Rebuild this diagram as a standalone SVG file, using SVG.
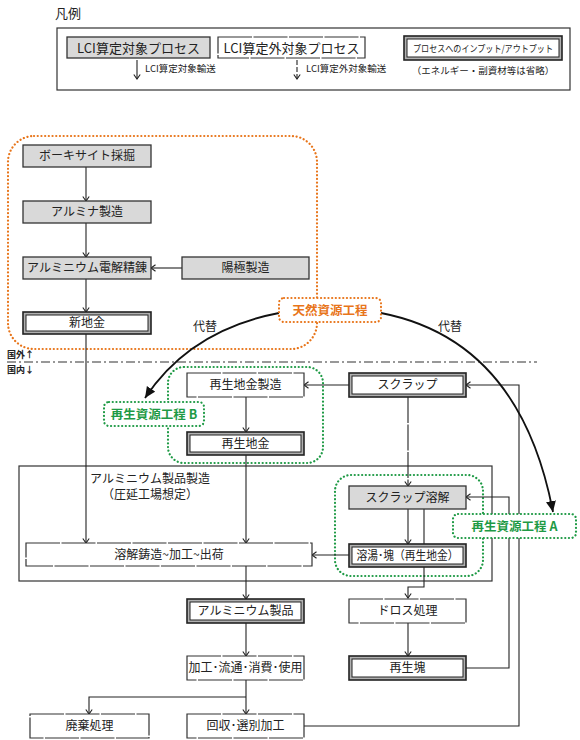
<svg xmlns="http://www.w3.org/2000/svg" width="580" height="740" viewBox="0 0 580 740">
<style>
text{font-family:"Noto Sans CJK JP","Liberation Sans",sans-serif;fill:#222;}
.t{font-size:12px;text-anchor:middle;}
.s{font-size:9.5px;}
.g{fill:#d9d9d9;stroke:#333;stroke-width:1.3;}
.w{fill:#fff;stroke:#333;stroke-width:1.2;}
.wd{fill:#fff;stroke:#333;stroke-width:1.2;stroke-dasharray:34 1.5;}
.do{fill:#b0b0b0;stroke:#222;stroke-width:1.6;}
.di{fill:#fff;stroke:#222;stroke-width:1;}
.c{fill:none;stroke:#222;stroke-width:1.1;}
.cd{fill:none;stroke:#222;stroke-width:1.1;stroke-dasharray:26 1.5;}
.cv{fill:none;stroke:#111;stroke-width:1.8;}
.or{fill:none;stroke:#E8751A;stroke-width:2.2;stroke-dasharray:0.1 3.6;stroke-linecap:round;}
.orl{fill:#fff;stroke:#E8751A;stroke-width:2.2;stroke-dasharray:0.1 3.6;stroke-linecap:round;}
.gr{fill:none;stroke:#1E9A45;stroke-width:2.2;stroke-dasharray:0.1 3.6;stroke-linecap:round;}
.grl{fill:#fff;stroke:#1E9A45;stroke-width:2.2;stroke-dasharray:0.1 3.6;stroke-linecap:round;}
.lo{font-size:12.5px;font-weight:bold;fill:#E8751A;text-anchor:middle;}
.lg{font-size:12.5px;font-weight:bold;fill:#1E9A45;text-anchor:middle;}
</style>
<defs>
<marker id="a" markerUnits="userSpaceOnUse" markerWidth="10" markerHeight="10" refX="5" refY="4" orient="auto">
<path d="M0.5,0.8 L5,4 L0.5,7.2" fill="none" stroke="#222" stroke-width="1.1"/>
</marker>
<marker id="f" markerUnits="userSpaceOnUse" markerWidth="14" markerHeight="14" refX="11" refY="5" orient="auto">
<path d="M0,0 L11,5 L0,10 Z" fill="#111"/>
</marker>
</defs>

<g id="legend">
<text x="55" y="18" style="font-size:13px">凡例</text>
<rect x="57" y="28" width="513" height="62" fill="none" stroke="#333" stroke-width="1.2"/>
<rect x="67" y="37" width="143" height="21" class="g"/>
<text x="138.5" y="52.5" class="t" style="font-size:13px">LCI算定対象プロセス</text>
<rect x="218" y="37" width="147" height="21" class="wd"/>
<text x="291.5" y="52.5" class="t" style="font-size:13px">LCI算定外対象プロセス</text>
<rect x="404" y="36" width="158" height="24" class="do"/>
<rect x="407" y="39" width="152" height="18" class="di"/>
<text x="483" y="51.5" class="t" style="font-size:9.5px" textLength="140" lengthAdjust="spacingAndGlyphs">プロセスへのインプット/アウトプット</text>
<path d="M137,60 V79" class="c" marker-end="url(#a)"/>
<text x="145" y="72" class="s">LCI算定対象輸送</text>
<path d="M297,60 V79" class="c" stroke-dasharray="5 2" marker-end="url(#a)"/>
<text x="306" y="72" class="s">LCI算定外対象輸送</text>
<text x="483" y="74" class="s" text-anchor="middle">（エネルギー・副資材等は省略）</text>
</g>

<g id="regions">
<rect x="8" y="136" width="309" height="213" rx="26" class="or"/>
<rect x="168" y="367" width="155" height="96" rx="16" class="gr"/>
<rect x="335" y="475" width="148" height="101" rx="16" class="gr"/>
<rect x="19" y="466" width="473" height="115" fill="none" stroke="#333" stroke-width="1.2"/>
<text x="150" y="483" class="t">アルミニウム製品製造</text>
<text x="150" y="499" class="t">（圧延工場想定）</text>
<path d="M7,362 H537" fill="none" stroke="#333" stroke-width="1.1" stroke-dasharray="9 3 2 3"/>
<text x="7" y="358" style="font-size:9px;font-weight:bold">国外↑</text>
<text x="7" y="373" style="font-size:9px;font-weight:bold">国内↓</text>
<text x="205" y="331" class="t">代替</text>
<text x="450" y="331" class="t">代替</text>
</g>

<g id="connectors">
<path d="M86,167 V201" class="c" marker-end="url(#a)"/>
<path d="M86,223 V257" class="c" marker-end="url(#a)"/>
<path d="M86,279 V312" class="c" marker-end="url(#a)"/>
<path d="M182,268 H151" class="c" marker-end="url(#a)"/>
<path d="M86,334 V543" class="c" marker-end="url(#a)"/>
<path d="M349,385 H304" class="c" marker-end="url(#a)"/>
<path d="M246,397 V432" class="c" marker-end="url(#a)"/>
<path d="M246,455 V543" class="c" marker-end="url(#a)"/>
<path d="M408,397 V486" class="cd" marker-end="url(#a)"/>
<path d="M408,509 V544" class="c" marker-end="url(#a)"/>
<path d="M424,509 V587 H408 V598" class="c" marker-end="url(#a)"/>
<path d="M349,555 H312" class="c" marker-end="url(#a)"/>
<path d="M246,566 V599" class="c" marker-end="url(#a)"/>
<path d="M408,623 V656" class="c" marker-end="url(#a)"/>
<path d="M246,623 V656" class="c" marker-end="url(#a)"/>
<path d="M246,680 V714" class="c" marker-end="url(#a)"/>
<path d="M246,697 H89 V714" class="c" marker-end="url(#a)"/>
<path d="M466,668 H509 V497 H466" class="c" marker-end="url(#a)"/>
<path d="M304,726 H519 V385 H466" class="c" marker-end="url(#a)"/>
<path d="M279,313 Q190,330 145,398" class="cv" marker-end="url(#f)"/>
<path d="M381,313 Q520,340 553,512" class="cv" marker-end="url(#f)"/>
</g>

<g id="n-bauxite"><rect x="23" y="145" width="128" height="22" class="g"/><text x="87" y="160" class="t">ボーキサイト採掘</text></g>
<g id="n-alumina"><rect x="23" y="201" width="128" height="22" class="g"/><text x="87" y="216" class="t">アルミナ製造</text></g>
<g id="n-smelt"><rect x="23" y="257" width="128" height="22" class="g"/><text x="87" y="272" class="t">アルミニウム電解精錬</text></g>
<g id="n-anode"><rect x="182" y="257" width="127" height="22" class="g"/><text x="245.5" y="272" class="t">陽極製造</text></g>
<g id="n-primary"><rect x="23" y="312" width="128" height="22" class="do"/><rect x="26" y="315" width="122" height="16" class="di"/><text x="87" y="327" class="t">新地金</text></g>
<g id="l-natural"><rect x="279" y="298" width="102" height="24" rx="5" class="orl"/><text x="330" y="315" class="lo">天然資源工程</text></g>
<g id="n-secmake"><rect x="187" y="373" width="117" height="24" class="wd"/><text x="245.5" y="389" class="t">再生地金製造</text></g>
<g id="n-scrap"><rect x="349" y="373" width="117" height="24" class="do"/><rect x="352" y="376" width="111" height="18" class="di"/><text x="407.5" y="389" class="t">スクラップ</text></g>
<g id="l-b"><rect x="104" y="402" width="100" height="24" rx="5" class="grl"/><text x="154" y="419" class="lg">再生資源工程 B</text></g>
<g id="n-secingot"><rect x="187" y="432" width="117" height="23" class="do"/><rect x="190" y="435" width="111" height="17" class="di"/><text x="245.5" y="448" class="t">再生地金</text></g>
<g id="n-melt"><rect x="349" y="486" width="117" height="23" class="g"/><text x="407.5" y="502" class="t">スクラップ溶解</text></g>
<g id="l-a"><rect x="453" y="514" width="123" height="24" rx="5" class="grl"/><text x="514.5" y="531" class="lg">再生資源工程 A</text></g>
<g id="n-molten"><rect x="349" y="544" width="117" height="23" class="do"/><rect x="352" y="547" width="111" height="17" class="di"/><text x="407.5" y="560" class="t" textLength="102" lengthAdjust="spacingAndGlyphs">溶湯･塊（再生地金）</text></g>
<g id="n-cast"><rect x="26" y="543" width="286" height="23" class="wd"/><text x="169" y="559" class="t">溶解鋳造~加工~出荷</text></g>
<g id="n-product"><rect x="187" y="599" width="117" height="24" class="do"/><rect x="190" y="602" width="111" height="18" class="di"/><text x="245.5" y="615" class="t">アルミニウム製品</text></g>
<g id="n-dross"><rect x="349" y="599" width="117" height="24" class="wd"/><text x="407.5" y="615" class="t">ドロス処理</text></g>
<g id="n-use"><rect x="187" y="656" width="117" height="24" class="wd"/><text x="245.5" y="672" class="t">加工･流通･消費･使用</text></g>
<g id="n-lump"><rect x="349" y="656" width="117" height="24" class="do"/><rect x="352" y="659" width="111" height="18" class="di"/><text x="407.5" y="672" class="t">再生塊</text></g>
<g id="n-waste"><rect x="30" y="714" width="119" height="24" class="wd"/><text x="89.5" y="730" class="t">廃棄処理</text></g>
<g id="n-collect"><rect x="187" y="714" width="117" height="24" class="wd"/><text x="245.5" y="730" class="t">回収･選別加工</text></g>
</svg>
